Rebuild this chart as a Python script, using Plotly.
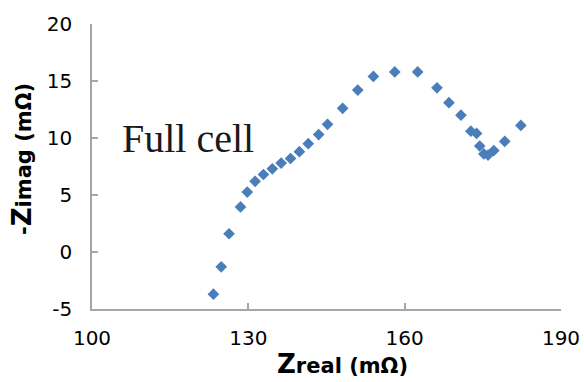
import plotly.graph_objects as go

z_real = [123.3, 124.8, 126.3, 128.5, 129.8, 131.3, 132.9, 134.6, 136.3, 138.1,
          139.8, 141.5, 143.5, 145.2, 148.1, 151.0, 154.0, 158.1, 162.5, 166.2,
          168.5, 170.8, 172.7, 173.8, 174.4, 175.2, 176.0, 177.1, 179.2, 182.3]
neg_z_imag = [-3.7, -1.3, 1.6, 3.95, 5.26, 6.2, 6.8, 7.3, 7.8, 8.2,
              8.8, 9.5, 10.3, 11.2, 12.6, 14.2, 15.4, 15.8, 15.8, 14.4,
              13.1, 12.0, 10.6, 10.4, 9.3, 8.6, 8.5, 8.9, 9.7, 11.1]

x_ticks = [100, 130, 160, 190]
y_ticks = [-5, 0, 5, 10, 15, 20]

L, R, T, B = 92, 23, 24, 73
W, H = 584, 382
pw = W - L - R
ph = H - T - B


def px_to_paper(px, py):
    return (px - L) / pw, 1 - (py - T) / ph


fig = go.Figure()
fig.add_trace(go.Scatter(
    x=z_real, y=neg_z_imag, mode="markers",
    marker=dict(symbol="diamond", size=9, color="#4A7EBB", line=dict(width=0)),
    showlegend=False,
))

axis_common = dict(
    showgrid=False, zeroline=False, showline=True, linecolor="#A6A6A6", linewidth=1.5,
    ticks="inside", ticklen=6, tickwidth=1.5, tickcolor="#A6A6A6",
    tickfont=dict(family="DejaVu Sans", size=20, color="#000000"),
    mirror=False, automargin=False,
)

fx, fy = px_to_paper(120, 138)
tx, ty = px_to_paper(342, 381)
yx, yy = px_to_paper(22, 159)

fig.update_layout(
    width=W, height=H, autosize=False,
    margin=dict(l=L, r=R, t=T, b=B, autoexpand=False),
    paper_bgcolor="white", plot_bgcolor="white",
    xaxis=dict(range=[100, 190], tickvals=x_ticks, ticktext=[str(v) for v in x_ticks],
               ticklabelstandoff=10, **axis_common),
    yaxis=dict(range=[-5, 20], tickvals=y_ticks, ticktext=[str(v) for v in y_ticks],
               ticklabelstandoff=14, **axis_common),
    annotations=[
        dict(text="Full cell", x=fx, y=fy, xref="paper", yref="paper", showarrow=False,
             xanchor="left", yanchor="middle",
             font=dict(family="Liberation Serif", size=40, color="#1a1a1a")),
        dict(text="<b><span style='font-size:26px'>Z</span>real (mΩ)</b>",
             x=tx, y=ty, xref="paper", yref="paper", showarrow=False,
             xanchor="center", yanchor="bottom",
             font=dict(family="DejaVu Sans", size=21, color="#000000")),
        dict(text="<b>-<span style='font-size:26px'>Z</span>imag (mΩ)</b>",
             x=yx, y=yy, xref="paper", yref="paper", showarrow=False, textangle=-90,
             xanchor="center", yanchor="middle",
             font=dict(family="DejaVu Sans", size=21, color="#000000")),
    ],
)

fig.write_html(
    "out.html",
    config={"displayModeBar": False, "responsive": False},
    post_script="document.body.style.margin='0';document.body.style.overflow='hidden';",
)
